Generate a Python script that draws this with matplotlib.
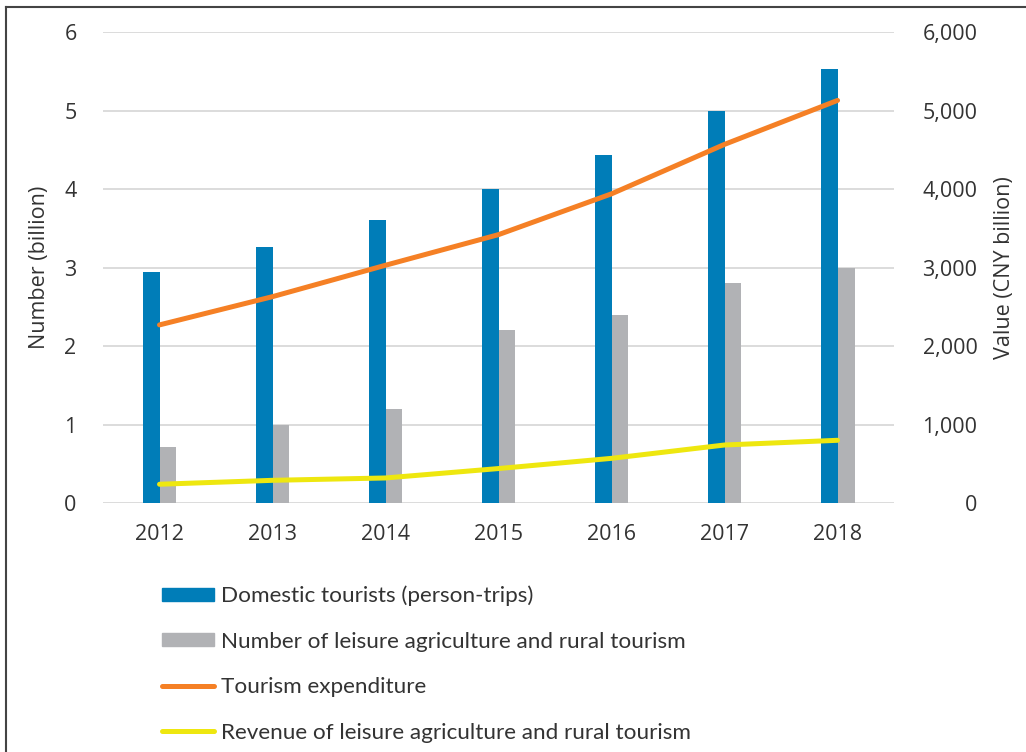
import matplotlib.pyplot as plt
from matplotlib.lines import Line2D
from matplotlib.patches import Patch
from matplotlib.ticker import FuncFormatter
import numpy as np

# Tourism in China, 2012-2018
years = ['2012', '2013', '2014', '2015', '2016', '2017', '2018']
domestic_tourists = [2.95, 3.26, 3.61, 4.00, 4.43, 5.00, 5.53]      # billion person-trips
rural_tourists = [0.71, 1.00, 1.20, 2.20, 2.40, 2.80, 3.00]          # billion
tourism_expenditure = [2270, 2630, 3030, 3420, 3940, 4570, 5130]     # CNY billion
rural_revenue = [240, 290, 320, 440, 570, 740, 800]                  # CNY billion

labels = ['Domestic tourists (person-trips)',
          'Number of leisure agriculture and rural tourism',
          'Tourism expenditure',
          'Revenue of leisure agriculture and rural tourism']

c_blue = '#007DB8'
c_gray = '#B1B2B5'
c_orange = '#F58025'
c_yellow = '#EEE70F'
c_text = '#333333'

tick_font = 'Open Sans'
legend_font = 'Lato'

fig = plt.figure(figsize=(10.26, 7.52), dpi=100)
ax = fig.add_axes([0.1004, 0.331, 0.7710, 0.6263])
ax2 = ax.twinx()

x = np.arange(len(years))
w = 0.15
ax.bar(x - w / 2, domestic_tourists, width=w, color=c_blue, zorder=3)
ax.bar(x + w / 2, rural_tourists, width=w, color=c_gray, zorder=3)

ax2.plot(x, tourism_expenditure, color=c_orange, lw=3.6, solid_capstyle='round', zorder=4)
ax2.plot(x, rural_revenue, color=c_yellow, lw=3.6, solid_capstyle='round', zorder=4)

ax.set_xlim(-0.5, len(years) - 0.5)
ax.set_ylim(0, 6)
ax2.set_ylim(0, 6000)
ax.set_yticks(range(0, 7))
ax2.set_yticks(range(0, 7000, 1000))
ax2.yaxis.set_major_formatter(FuncFormatter(lambda v, p: f'{int(v):,}'))
ax.set_xticks(x)
ax.set_xticklabels(years)

ax.grid(axis='y', color='#D9D9D9', lw=1.3, zorder=0)
ax.set_axisbelow(True)
for a in (ax, ax2):
    for s in a.spines.values():
        s.set_visible(False)

ax.tick_params(axis='both', length=0, labelsize=15.5, labelcolor=c_text)
ax.tick_params(axis='y', pad=19)
ax.tick_params(axis='x', pad=15)
ax2.tick_params(axis='y', length=0, labelsize=15.5, labelcolor=c_text, pad=60)
for t in ax2.get_yticklabels():
    t.set_horizontalalignment('right')
for t in ax.get_xticklabels() + ax.get_yticklabels() + ax2.get_yticklabels():
    t.set_fontfamily(tick_font)

ax.set_ylabel('Number (billion)', fontsize=15.5, color=c_text, family=tick_font, labelpad=10.5)
ax2.set_ylabel('Value (CNY billion)', fontsize=15.5, color=c_text, family=tick_font, labelpad=12)

handles = [Patch(color=c_blue), Patch(color=c_gray),
           Line2D([], [], color=c_orange, lw=3.6, solid_capstyle='round'),
           Line2D([], [], color=c_yellow, lw=3.6, solid_capstyle='round')]
fig.legend(handles, labels, loc='upper left', bbox_to_anchor=(0.158, 0.221),
           frameon=False, prop={'family': legend_font, 'size': 16.2},
           labelcolor=c_text, handlelength=2.3, handleheight=0.5,
           handletextpad=0.3, labelspacing=1.13, borderpad=0, borderaxespad=0)

# frame lines along the top and left edge
fig.add_artist(Line2D([0.006, 0.006], [0, 0.991], transform=fig.transFigure, color='#444444', lw=1.5))
fig.add_artist(Line2D([0.006, 1.0], [0.991, 0.991], transform=fig.transFigure, color='#444444', lw=1.5))

fig.savefig('out.png', dpi=100)
